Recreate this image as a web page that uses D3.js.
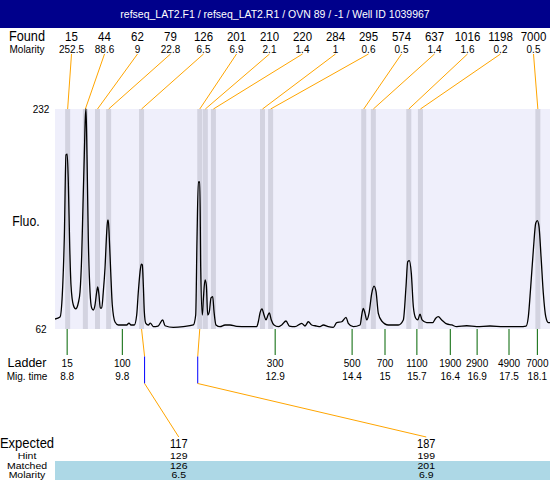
<!DOCTYPE html>
<html><head><meta charset="utf-8">
<script src="https://cdn.jsdelivr.net/npm/d3@7"></script>
<style>html,body{margin:0;padding:0;background:#fff;} svg{display:block;}</style>
</head><body>
<script>
const title = "refseq_LAT2.F1 / refseq_LAT2.R1 / OVN 89 / -1 / Well ID 1039967";
const traceTime = [8.560,8.659,8.704,8.744,8.777,8.801,8.823,8.850,8.876,8.922,
8.969,9.020,9.054,9.088,9.113,9.139,9.159,9.173,9.192,9.218,
9.252,9.285,9.317,9.350,9.384,9.404,9.429,9.455,9.483,9.514,
9.548,9.582,9.601,9.613,9.633,9.661,9.692,9.746,9.811,9.910,
9.977,10.022,10.062,10.127,10.174,10.206,10.240,10.265,10.285,10.305,
10.325,10.352,10.404,10.443,10.502,10.595,10.688,10.734,10.898,11.095,
11.293,11.340,11.366,11.392,11.421,11.439,11.471,11.490,11.524,11.550,
11.577,11.609,11.642,11.676,11.702,11.741,11.820,11.919,12.018,12.150,
12.348,12.545,12.577,12.611,12.650,12.690,12.729,12.769,12.794,12.834,
12.887,12.972,13.039,13.124,13.190,13.302,13.435,13.500,13.565,13.632,
13.731,13.796,13.861,13.960,14.059,14.126,14.225,14.310,14.355,14.454,
14.587,14.626,14.652,14.685,14.719,14.764,14.818,14.863,14.903,14.948,
15.015,15.146,15.343,15.442,15.495,15.529,15.561,15.600,15.640,15.687,
15.727,15.772,15.812,15.904,16.023,16.082,16.134,16.201,16.300,16.398,
16.497,16.695,16.892,17.155,17.418,17.748,17.867,17.912,17.959,18.011,
18.058,18.090,18.123,18.163,18.208,18.256,18.307,18.341];
const traceFluo = [69.7,71.3,88.3,132.3,196.5,197.2,175.6,126.9,96.0,80.5,
77.5,82.1,90.6,119.2,157.8,196.5,225.0,232.0,196.5,132.3,
90.6,78.2,76.7,80.5,90.6,94.5,88.3,78.2,78.2,90.6,
109.1,137.0,146.2,146.2,132.3,106.0,80.5,67.4,65.1,65.1,
65.1,66.6,65.1,65.1,72.8,90.6,106.0,112.2,111.5,96.0,
75.1,66.6,65.1,66.6,63.9,64.3,69.0,64.5,63.3,63.8,
65.1,72.8,132.3,175.6,175.6,109.1,72.8,84.4,99.9,96.0,
72.8,75.4,86.0,87.0,75.4,65.1,63.8,65.1,65.1,64.1,
63.8,63.8,67.6,74.4,77.5,72.8,69.0,72.8,74.4,69.0,
65.1,63.8,65.1,68.2,64.3,63.8,66.4,64.3,67.6,65.1,
64.3,63.8,65.1,63.8,63.3,66.9,67.6,71.0,66.4,63.8,
65.1,74.1,78.0,74.1,69.0,74.1,89.6,95.2,90.8,74.1,
68.2,65.1,65.1,69.0,94.7,114.0,114.8,105.0,79.2,70.3,
69.0,73.4,69.0,66.9,66.9,70.3,71.5,69.0,65.9,65.1,
63.8,64.5,63.8,64.3,63.8,63.8,64.3,71.5,94.7,123.0,
143.7,145.7,141.1,117.9,89.6,71.5,66.9,66.9];
const foundSize = [15,44,62,79,126,201,210,220,284,295,574,637,1016,1198,7000];
const foundMolarity = [252.5,88.6,9,22.8,6.5,6.9,2.1,1.4,1,0.6,0.5,1.4,1.6,0.2,0.5];
const foundTime = [8.81,9.16,9.40,9.62,10.27,11.42,11.53,11.69,12.66,12.82,14.66,14.85,15.55,15.78,18.10];
const ladderSize = [15,100,300,500,700,1100,1900,2900,4900,7000];
const ladderTime = [8.80,9.89,12.91,14.43,15.08,15.71,16.37,16.90,17.53,18.09];
const ladderTimeLabel = [8.8,9.8,12.9,14.4,15,15.7,16.4,16.9,17.5,18.1];
const expectedSize = [117,187];
const hintSize = [129,199];
const hintTime = [10.33,11.38];
const matchedSize = [126,201];
const matchedTime = [10.27,11.42];
const matchedMolarity = [6.5,6.9];
const yTicks = [62,232];
const timeDomain = [8.56,18.34];

const W = 550, H = 480;
const FONT = '"Liberation Sans", Arial, Helvetica, sans-serif';
const svg = d3.select("body").append("svg").attr("width", W).attr("height", H)
  .style("font-family", FONT);

const plot = {left:55, right:550, top:109, bottom:329};
const x = d3.scaleLinear().domain(timeDomain).range([plot.left, plot.right]);
const y = d3.scaleLinear().domain(d3.extent(yTicks)).range([plot.bottom, plot.top]);

function txt(sel, px, py, s, size, sy, anchor, fill) {
  sel.append("text")
    .attr("transform", `translate(${px},${py}) scale(1,${sy})`)
    .attr("text-anchor", anchor || "middle")
    .attr("font-size", size)
    .attr("fill", fill || "#000")
    .text(s);
}

// title bar
svg.append("rect").attr("x",0).attr("y",0).attr("width",W).attr("height",28).attr("fill","#00008B");
txt(svg, W/2, 18, title, 10.5, 1, "middle", "#fff");

// plot background
svg.append("rect").attr("x",plot.left).attr("y",plot.top)
  .attr("width",plot.right-plot.left).attr("height",plot.bottom-plot.top).attr("fill","#EFEFFB");

// peak bands
svg.append("g").selectAll("rect").data(foundTime).join("rect")
  .attr("x", d => x(d) - 2.5).attr("y", plot.top).attr("width", 5)
  .attr("height", plot.bottom - plot.top).attr("fill", "#D3D3E0");

// found labels
const nF = foundSize.length;
const fx = i => plot.left + (plot.right - plot.left) * (i + 0.5) / nF;
txt(svg, 27, 40.8, "Found", 12.7, 1.1);
txt(svg, 27, 53.3, "Molarity", 10, 1.1);
foundSize.forEach((s, i) => {
  txt(svg, fx(i), 40.8, String(s), 11.5, 1.15);
  txt(svg, fx(i), 53.3, String(foundMolarity[i]), 10, 1.1);
});
svg.append("g").selectAll("line").data(foundTime).join("line")
  .attr("x1", (d,i) => fx(i)).attr("y1", 54)
  .attr("x2", d => x(d)).attr("y2", plot.top)
  .attr("stroke", "#FFA500").attr("stroke-width", 1);

// y labels
yTicks.forEach(v => txt(svg, 41, y(v) + 4, String(v), 10, 1));
txt(svg, 26, 225.5, "Fluo.", 12.3, 1.2);

// trace
svg.append("defs").append("clipPath").attr("id","pc").append("rect")
  .attr("x",plot.left).attr("y",plot.top-1).attr("width",plot.right-plot.left).attr("height",plot.bottom-plot.top+1);
const line = d3.line().x(d => x(d[0])).y(d => y(d[1])).curve(d3.curveMonotoneX);
svg.append("path").datum(traceTime.map((t,i) => [t, traceFluo[i]]))
  .attr("d", line).attr("fill","none").attr("stroke","#000").attr("stroke-width",1.3)
  .attr("clip-path","url(#pc)");

// ladder
svg.append("g").selectAll("line").data(ladderTime).join("line")
  .attr("x1", d => x(d)).attr("x2", d => x(d)).attr("y1", plot.bottom).attr("y2", 355)
  .attr("stroke", "#006400").attr("stroke-width", 1);
txt(svg, 27, 367, "Ladder", 12.5, 0.95);
txt(svg, 27, 379.5, "Mig. time", 10, 1);
ladderSize.forEach((s, i) => {
  txt(svg, x(ladderTime[i]), 367, String(s), 10, 1);
  txt(svg, x(ladderTime[i]), 380, String(ladderTimeLabel[i]), 10, 1);
});

// expected / hint / matched
const nE = expectedSize.length;
const ex = i => plot.left + (plot.right - plot.left) * (i + 0.5) / nE;
svg.append("rect").attr("x", plot.left).attr("y", 461).attr("width", plot.right - plot.left)
  .attr("height", H - 461).attr("fill", "#ADD8E6");
const rowSY = 0.82;
expectedSize.forEach((s, i) => {
  const xm = x(matchedTime[i]), xh = x(hintTime[i]);
  svg.append("line").attr("x1", xm).attr("y1", plot.bottom).attr("x2", xh).attr("y2", 356.5)
    .attr("stroke", "#FFA500");
  svg.append("line").attr("x1", xh).attr("y1", 356.5).attr("x2", xh).attr("y2", 383.5)
    .attr("stroke", "#0000FF");
  svg.append("line").attr("x1", xh).attr("y1", 383.5).attr("x2", ex(i)).attr("y2", 437)
    .attr("stroke", "#FFA500");
  txt(svg, ex(i), 448.3, String(s), 11, 1.18);
  txt(svg, ex(i), 459, String(hintSize[i]), 10.5, rowSY);
  txt(svg, ex(i), 469, String(matchedSize[i]), 10.5, rowSY);
  txt(svg, ex(i), 478, String(matchedMolarity[i]), 10.5, rowSY);
});
txt(svg, 27, 448.3, "Expected", 13, 1.07);
txt(svg, 27, 459, "Hint", 10.5, rowSY);
txt(svg, 27, 469, "Matched", 10.5, rowSY);
txt(svg, 27, 478, "Molarity", 10.5, rowSY);
</script>
</body></html>
